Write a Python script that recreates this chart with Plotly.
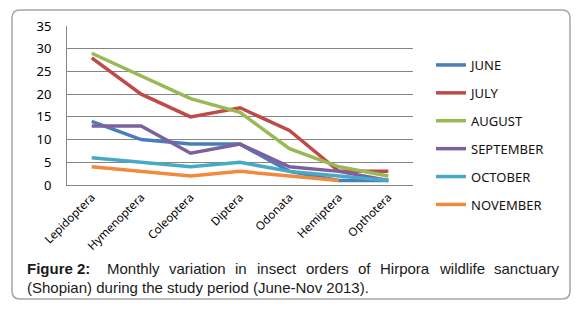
import plotly.graph_objects as go

orders = ["Lepidoptera", "Hymenoptera", "Coleoptera", "Diptera", "Odonata", "Hemiptera", "Opthotera"]
june = [14, 10, 9, 9, 3, 1, 1]
july = [28, 20, 15, 17, 12, 3, 3]
august = [29, 24, 19, 16, 8, 4, 2]
september = [13, 13, 7, 9, 4, 3, 1]
october = [6, 5, 4, 5, 3, 2, 1]
november = [4, 3, 2, 3, 2, 1, None]
months = ["JUNE", "JULY", "AUGUST", "SEPTEMBER", "OCTOBER", "NOVEMBER"]
colors = ["#4A7EBB", "#BE4B48", "#98B954", "#7D60A0", "#46AAC5", "#F08A3C"]
y_ticks = [0, 5, 10, 15, 20, 25, 30, 35]

caption_bold = "Figure 2:"
caption_words = ["Monthly", "variation", "in", "insect", "orders", "of", "Hirpora", "wildlife", "sanctuary"]
caption_line2 = "(Shopian) during the study period (June-Nov 2013)."

W, H = 579, 309
L, R, T, B = 67, 166, 26, 124
PW, PH = W - L - R, H - T - B
CAP_FS = 15

# Arial / Liberation Sans advance widths (per 1000 em) for justifying caption line 1
ARIAL = {"a": 556, "c": 500, "d": 556, "e": 556, "f": 278, "h": 556, "i": 222, "l": 222,
         "n": 556, "o": 556, "p": 556, "r": 333, "s": 500, "t": 278, "u": 556, "v": 500,
         "w": 722, "y": 500, "M": 833, "H": 722}


def word_w(w):
    return sum(ARIAL.get(ch, 556) for ch in w) * CAP_FS / 1000


def px(x):
    return (x - L) / PW


def py(y):
    return (H - B - y) / PH


fig = go.Figure()
for name, vals, c in zip(months, [june, july, august, september, october, november], colors):
    fig.add_trace(go.Scatter(x=orders, y=vals, mode="lines", name=name, legendgroup=name,
                             line=dict(color=c, width=3.5), connectgaps=False))

fig.update_layout(
    width=W, height=H,
    margin=dict(l=L, r=R, t=T, b=B, autoexpand=False),
    paper_bgcolor="white", plot_bgcolor="white",
    font=dict(family="Noto Sans", color="#000000"),
    showlegend=True,
    legend=dict(x=px(431), y=py(50), xanchor="left", yanchor="top",
                font=dict(size=13, color="#111111", family="Noto Sans"),
                tracegroupgap=8, itemwidth=30, bgcolor="rgba(0,0,0,0)", maxheight=300),
    xaxis=dict(type="category", range=[-0.5, 6.5], showgrid=False, showline=True,
               linecolor="#868686", linewidth=1, ticks="", tickangle=-45,
               tickfont=dict(size=11.5, family="Noto Sans", color="#000000")),
    yaxis=dict(range=[0, 35], tickvals=y_ticks, showgrid=True, gridcolor="#868686",
               gridwidth=1, showline=True, linecolor="#868686", linewidth=1, ticks="",
               ticklabelstandoff=12,
               tickfont=dict(size=13, family="Noto Sans", color="#000000"), zeroline=False),
)

# outer rounded frame
x0, y0, x1, y1, r = px(12), py(10), px(570), py(299), 8
rx, ry = r / PW, r / PH
path = (f"M {x0+rx},{y0} L {x1-rx},{y0} Q {x1},{y0} {x1},{y0-ry} "
        f"L {x1},{y1+ry} Q {x1},{y1} {x1-rx},{y1} L {x0+rx},{y1} Q {x0},{y1} {x0},{y1+ry} "
        f"L {x0},{y0-ry} Q {x0},{y0} {x0+rx},{y0} Z")
fig.add_shape(type="path", path=path, xref="paper", yref="paper",
              line=dict(color="#A6A6A6", width=1.5), layer="below")

# caption line 1 (justified between left and right text edges)
left_edge, right_edge, bold_w = 25, 557, 70
widths = [word_w(w) for w in caption_words]
gap = (right_edge - left_edge - bold_w - sum(widths)) / len(caption_words)
cap_font = dict(family="Liberation Sans", size=CAP_FS, color="#1a1a1a")
fig.add_annotation(text=f"<b>{caption_bold}</b>", x=px(left_edge), y=py(268), xref="paper",
                   yref="paper", xanchor="left", yanchor="middle", showarrow=False, font=cap_font)
xpos = left_edge + bold_w + gap
for w, ww in zip(caption_words, widths):
    fig.add_annotation(text=w, x=px(xpos), y=py(268), xref="paper", yref="paper",
                       xanchor="left", yanchor="middle", showarrow=False, font=cap_font)
    xpos += ww + gap
fig.add_annotation(text=caption_line2, x=px(left_edge), y=py(287), xref="paper", yref="paper",
                   xanchor="left", yanchor="middle", showarrow=False, font=cap_font)

fig.write_html("out.html", config={"displayModeBar": False},
               post_script="document.body.style.margin='0';")
